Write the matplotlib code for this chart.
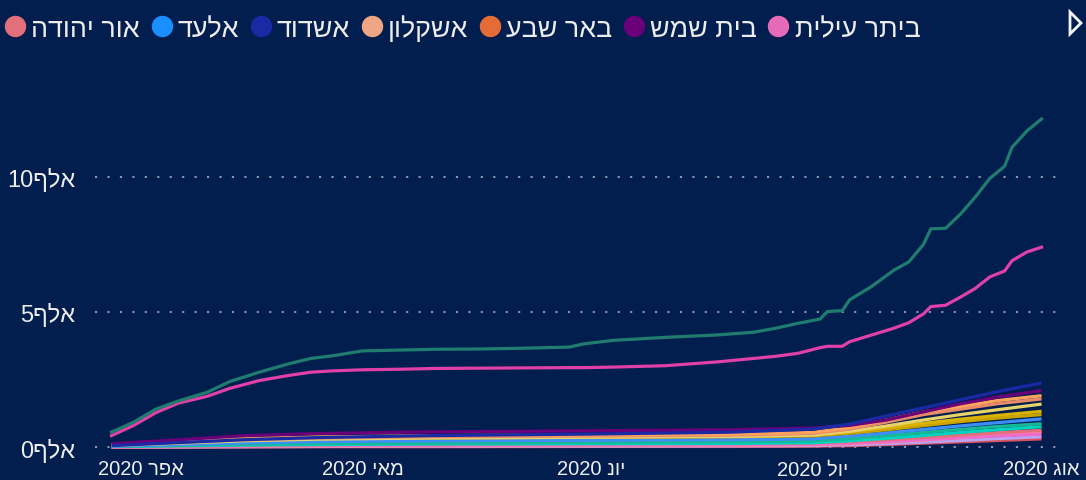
import matplotlib
matplotlib.use("Agg")
import matplotlib.pyplot as plt
from matplotlib.lines import Line2D
from matplotlib.patches import Polygon
import datetime as dt
import re

# ---------------- data (values in thousands of cases) ----------------
big_dates = ["2020-03-28", "2020-03-31", "2020-04-03", "2020-04-06", "2020-04-10", "2020-04-13",
             "2020-04-17", "2020-04-21", "2020-04-24", "2020-04-27", "2020-05-01", "2020-05-06",
             "2020-05-11", "2020-05-17", "2020-05-23", "2020-05-29", "2020-05-31", "2020-06-04",
             "2020-06-11", "2020-06-18", "2020-06-23", "2020-06-26", "2020-06-29", "2020-07-02",
             "2020-07-03", "2020-07-05", "2020-07-06", "2020-07-09", "2020-07-12", "2020-07-14",
             "2020-07-16", "2020-07-17", "2020-07-19", "2020-07-21", "2020-07-23", "2020-07-25",
             "2020-07-27", "2020-07-28", "2020-07-30", "2020-08-01"]
jerusalem = [0.55, 0.92, 1.40, 1.70, 2.03, 2.42, 2.77, 3.08, 3.28, 3.38, 3.56, 3.59, 3.62, 3.63,
             3.66, 3.70, 3.82, 3.95, 4.06, 4.15, 4.25, 4.40, 4.58, 4.74, 5.02, 5.05, 5.45, 5.95,
             6.55, 6.85, 7.50, 8.08, 8.10, 8.62, 9.25, 9.95, 10.40, 11.10, 11.70, 12.15]
bnei_brak = [0.42, 0.80, 1.27, 1.62, 1.88, 2.17, 2.46, 2.65, 2.77, 2.82, 2.86, 2.88, 2.91, 2.92,
             2.93, 2.94, 2.94, 2.96, 3.01, 3.15, 3.28, 3.36, 3.47, 3.68, 3.73, 3.73, 3.90, 4.15,
             4.40, 4.60, 4.93, 5.20, 5.25, 5.55, 5.87, 6.30, 6.52, 6.90, 7.22, 7.40]

small_dates = ["2020-03-28", "2020-04-05", "2020-04-15", "2020-04-25", "2020-05-10", "2020-06-01",
               "2020-06-20", "2020-07-01", "2020-07-06", "2020-07-11", "2020-07-16", "2020-07-21",
               "2020-07-26", "2020-08-01"]
or_yehuda    = [0.01, 0.03, 0.06, 0.09, 0.11, 0.12, 0.13, 0.15, 0.20, 0.27, 0.35, 0.44, 0.53, 0.62]
elad         = [0.03, 0.08, 0.15, 0.20, 0.23, 0.25, 0.27, 0.30, 0.40, 0.52, 0.65, 0.78, 0.90, 1.04]
ashdod       = [0.05, 0.15, 0.27, 0.35, 0.42, 0.48, 0.55, 0.66, 0.85, 1.15, 1.45, 1.75, 2.05, 2.37]
ashkelon     = [0.08, 0.18, 0.30, 0.37, 0.42, 0.45, 0.48, 0.54, 0.72, 1.00, 1.30, 1.50, 1.72, 1.90]
beer_sheva   = [0.07, 0.16, 0.27, 0.33, 0.38, 0.41, 0.44, 0.50, 0.66, 0.92, 1.20, 1.40, 1.60, 1.78]
beit_shemesh = [0.12, 0.25, 0.42, 0.50, 0.56, 0.60, 0.64, 0.70, 0.80, 1.00, 1.30, 1.60, 1.85, 2.09]
beitar_ilit  = [0.00, 0.01, 0.03, 0.05, 0.06, 0.07, 0.08, 0.10, 0.14, 0.20, 0.27, 0.34, 0.41, 0.48]
haifa        = [0.05, 0.13, 0.23, 0.29, 0.33, 0.36, 0.39, 0.44, 0.58, 0.78, 1.00, 1.20, 1.38, 1.59]
petah_tikva  = [0.09, 0.20, 0.31, 0.37, 0.40, 0.42, 0.44, 0.47, 0.58, 0.72, 0.88, 1.03, 1.17, 1.32]
tel_aviv     = [0.07, 0.16, 0.26, 0.31, 0.34, 0.36, 0.38, 0.41, 0.51, 0.64, 0.79, 0.94, 1.07, 1.20]
modiin_ilit  = [0.02, 0.06, 0.10, 0.13, 0.15, 0.17, 0.19, 0.23, 0.31, 0.42, 0.54, 0.65, 0.76, 0.86]
lod          = [0.02, 0.04, 0.07, 0.09, 0.11, 0.12, 0.13, 0.16, 0.23, 0.32, 0.43, 0.54, 0.64, 0.75]
ramla        = [0.00, 0.01, 0.02, 0.03, 0.04, 0.05, 0.06, 0.08, 0.12, 0.18, 0.26, 0.35, 0.45, 0.56]
tiberias     = [0.00, 0.00, 0.01, 0.02, 0.03, 0.03, 0.04, 0.05, 0.08, 0.12, 0.18, 0.24, 0.31, 0.38]
netanya      = [0.00, 0.00, 0.00, 0.01, 0.01, 0.02, 0.02, 0.03, 0.05, 0.09, 0.14, 0.19, 0.24, 0.30]

legend_names = ["אור יהודה", "אלעד", "אשדוד", "אשקלון", "באר שבע", "בית שמש", "ביתר עילית"]
legend_colors = ["#E36F7A", "#1A8FFF", "#1A2AA5", "#F0A584", "#E66C37", "#6B007B", "#E56AB8"]

small_series = [
    ("נתניה", netanya, "#D9525E"),
    ("טבריה", tiberias, "#B9A3F5"),
    ("רמלה", ramla, "#FF8A8A"),
    ("ביתר עילית", beitar_ilit, "#F06CC8"),
    ("אור יהודה", or_yehuda, "#E36F7A"),
    ("לוד", lod, "#00D4C0"),
    ("מודיעין עילית", modiin_ilit, "#17B897"),
    ("אלעד", elad, "#3E8EF7"),
    ("תל אביב", tel_aviv, "#C9A400"),
    ("פתח תקווה", petah_tikva, "#D9B300"),
    ("חיפה", haifa, "#E7D36A"),
    ("באר שבע", beer_sheva, "#E88A6A"),
    ("אשקלון", ashkelon, "#FFA25E"),
    ("בית שמש", beit_shemesh, "#6B007B"),
    ("אשדוד", ashdod, "#1A2AA5"),
]

month_ticks = ["2020-04-01", "2020-05-01", "2020-06-01", "2020-07-01", "2020-08-01"]
month_labels = ["אפר 2020", "מאי 2020", "יונ 2020", "יול 2020", "אוג 2020"]
y_ticks = [0, 5, 10]
y_labels = ["אלף0", "אלף5", "אלף10"]


def vis(s):
    """Convert logical-order Hebrew text to visual order (LTR rendering)."""
    r = s[::-1]
    return re.sub(r"[0-9]+", lambda m: m.group(0)[::-1], r)


def to_dates(lst):
    return [dt.datetime.strptime(d, "%Y-%m-%d") for d in lst]


# ---------------- style ----------------
BG = "#011E4F"
TXT = "#EDEDED"
GRID = "#8E9BB6"
plt.rcParams["font.family"] = ["Liberation Sans", "DejaVu Sans"]

W, H = 1086, 481
fig = plt.figure(figsize=(W / 100, H / 100), dpi=100, facecolor=BG)
ax = fig.add_axes([95 / W, 1 - 452 / H, (1060 - 95) / W, (452 - 60) / H])
ax.set_facecolor(BG)

sd = to_dates(small_dates)
for name, vals, col in small_series:
    ax.plot(sd, vals, color=col, lw=2.3, solid_capstyle="butt", solid_joinstyle="round")

bd = to_dates(big_dates)
ax.plot(bd, bnei_brak, color="#E040A8", lw=2.3, solid_joinstyle="round")
ax.plot(bd, jerusalem, color="#1F7C6E", lw=2.3, solid_joinstyle="round")

apr1 = dt.datetime(2020, 4, 1)
ax.set_xlim(apr1 - dt.timedelta(days=6.23), apr1 + dt.timedelta(days=124.5))
ax.set_ylim(-0.148, 14.37)

ax.set_yticks(y_ticks)
ax.set_yticklabels([vis(s) for s in y_labels])
ax.set_xticks(to_dates(month_ticks))
ax.set_xticklabels([vis(s) for s in month_labels])
ax.tick_params(axis="both", length=0, colors=TXT)
ax.tick_params(axis="y", pad=14, labelsize=17)
ax.tick_params(axis="x", pad=6, labelsize=14.5)
ax.yaxis.grid(True, color=GRID, lw=1.4, linestyle=(0, (1.1, 5.3)))
ax.set_axisbelow(True)
for sp in ax.spines.values():
    sp.set_visible(False)

# legend (first visible entries)
handles = [Line2D([], [], linestyle="none", marker="o", markersize=14.4, markerfacecolor=c,
                  markeredgecolor=c) for c in legend_colors]
leg = fig.legend(handles, [vis(n) for n in legend_names], loc="upper left",
                 bbox_to_anchor=(5 / W, 1 - 16 / H), ncol=7, frameon=False,
                 handlelength=0.76, handletextpad=0.22, columnspacing=0.42,
                 fontsize=19.4, labelcolor=TXT, borderaxespad=0, borderpad=0)

# legend scroll arrow
tri = Polygon([[1070 / W, 1 - 13 / H], [1070 / W, 1 - 35 / H], [1081 / W, 1 - 24 / H]],
              closed=True, transform=fig.transFigure, facecolor=BG, edgecolor="#F2F2F2", lw=2)
fig.patches.append(tri)

fig.savefig("out.png", dpi=100, facecolor=BG)
